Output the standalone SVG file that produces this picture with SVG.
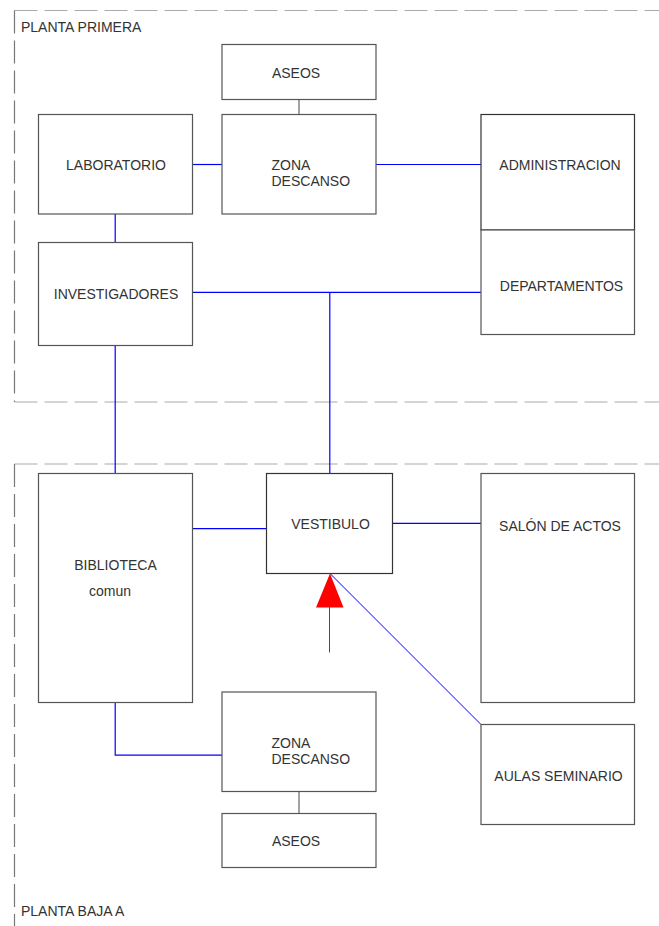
<svg xmlns="http://www.w3.org/2000/svg" width="659" height="926" viewBox="0 0 659 926">
<style>
.box{fill:#fff;stroke:#555;stroke-width:1.2}
.t{font-family:"Liberation Sans",Arial,sans-serif;font-size:14px;fill:#333}
.c{text-anchor:middle}
.blue{stroke:#0000ff;stroke-width:1.2;fill:none}
.gray{stroke:#666;stroke-width:1.2;fill:none}
.dh{stroke:#aaa;stroke-width:1.2;stroke-dasharray:23 7;fill:none}
.dv{stroke:#777;stroke-width:1.2;stroke-dasharray:23 7;fill:none}
</style>
<rect width="659" height="926" fill="#fff"/>
<g id="frames">
<path class="dh" d="M14.5 10.5H659"/>
<path class="dv" d="M14.5 10.5V402"/>
<path class="dh" d="M14.5 402H659"/>
<path class="dh" d="M14.5 464H659"/>
<path class="dv" d="M14.5 464V926"/>
<text class="t" x="21" y="32">PLANTA PRIMERA</text>
<text class="t" x="21" y="916">PLANTA BAJA A</text>
</g>
<g id="connectors">
<path class="gray" d="M299 99.5V114.5"/>
<path class="blue" d="M192.5 164.5H222"/>
<path class="blue" d="M376 164.5H481"/>
<path class="blue" d="M115.2 214V242.5"/>
<path class="blue" d="M192.5 292.3H481"/>
<path class="blue" d="M329.8 292.3V473.5"/>
<path class="blue" d="M115.2 345.5V473.5"/>
<path class="blue" d="M192.5 528.7H266.5"/>
<path class="blue" d="M392.5 523.3H481"/>
<path class="blue" d="M330 573.5L481 724.5" style="stroke-width:1"/>
<path class="blue" d="M115.2 702.5V755.2H222"/>
<path class="gray" d="M299 791.5V813.5"/>
<path d="M329.5 652.5V607" stroke="#ff0000" stroke-width="1" fill="none"/>
<polygon points="330,573.5 316,607.5 343.5,607.5" fill="#ff0000"/>
</g>
<g id="aseos1"><rect class="box" x="222" y="44.5" width="154" height="55"/><text class="t c" x="296" y="78">ASEOS</text></g>
<g id="laboratorio"><rect class="box" x="38.5" y="114.5" width="154" height="99.5"/><text class="t c" x="116" y="170">LABORATORIO</text></g>
<g id="zona1"><rect class="box" x="222" y="114.5" width="154" height="99.5"/><text class="t" x="271.5" y="169.5">ZONA</text><text class="t" x="271.5" y="186">DESCANSO</text></g>
<g id="administracion"><rect class="box" x="481" y="114.5" width="153.5" height="115.5" style="stroke:#333"/><text class="t c" x="560" y="169.5">ADMINISTRACION</text></g>
<g id="departamentos"><rect class="box" x="481" y="230" width="153.5" height="104.5"/><text class="t c" x="561.5" y="290.5">DEPARTAMENTOS</text></g>
<g id="investigadores"><rect class="box" x="38.5" y="242.5" width="154" height="103"/><text class="t c" x="116" y="298.5">INVESTIGADORES</text></g>
<g id="biblioteca"><rect class="box" x="38.5" y="473.5" width="154" height="229"/><text class="t c" x="115.5" y="569.5">BIBLIOTECA</text><text class="t c" x="110" y="596">comun</text></g>
<g id="vestibulo"><rect class="box" x="266.5" y="473.5" width="126" height="100" style="stroke:#333"/><text class="t c" x="330.5" y="528.5">VESTIBULO</text></g>
<g id="salon"><rect class="box" x="481" y="473.5" width="153.5" height="229"/><text class="t c" x="560" y="531">SALÓN DE ACTOS</text></g>
<g id="aulas"><rect class="box" x="481" y="724.5" width="153.5" height="100"/><text class="t c" x="558.5" y="780.5">AULAS SEMINARIO</text></g>
<g id="zona2"><rect class="box" x="222" y="692" width="154" height="99.5"/><text class="t" x="271.5" y="747.5">ZONA</text><text class="t" x="271.5" y="764">DESCANSO</text></g>
<g id="aseos2"><rect class="box" x="222" y="813.5" width="154" height="54"/><text class="t c" x="296" y="846">ASEOS</text></g>
</svg>
